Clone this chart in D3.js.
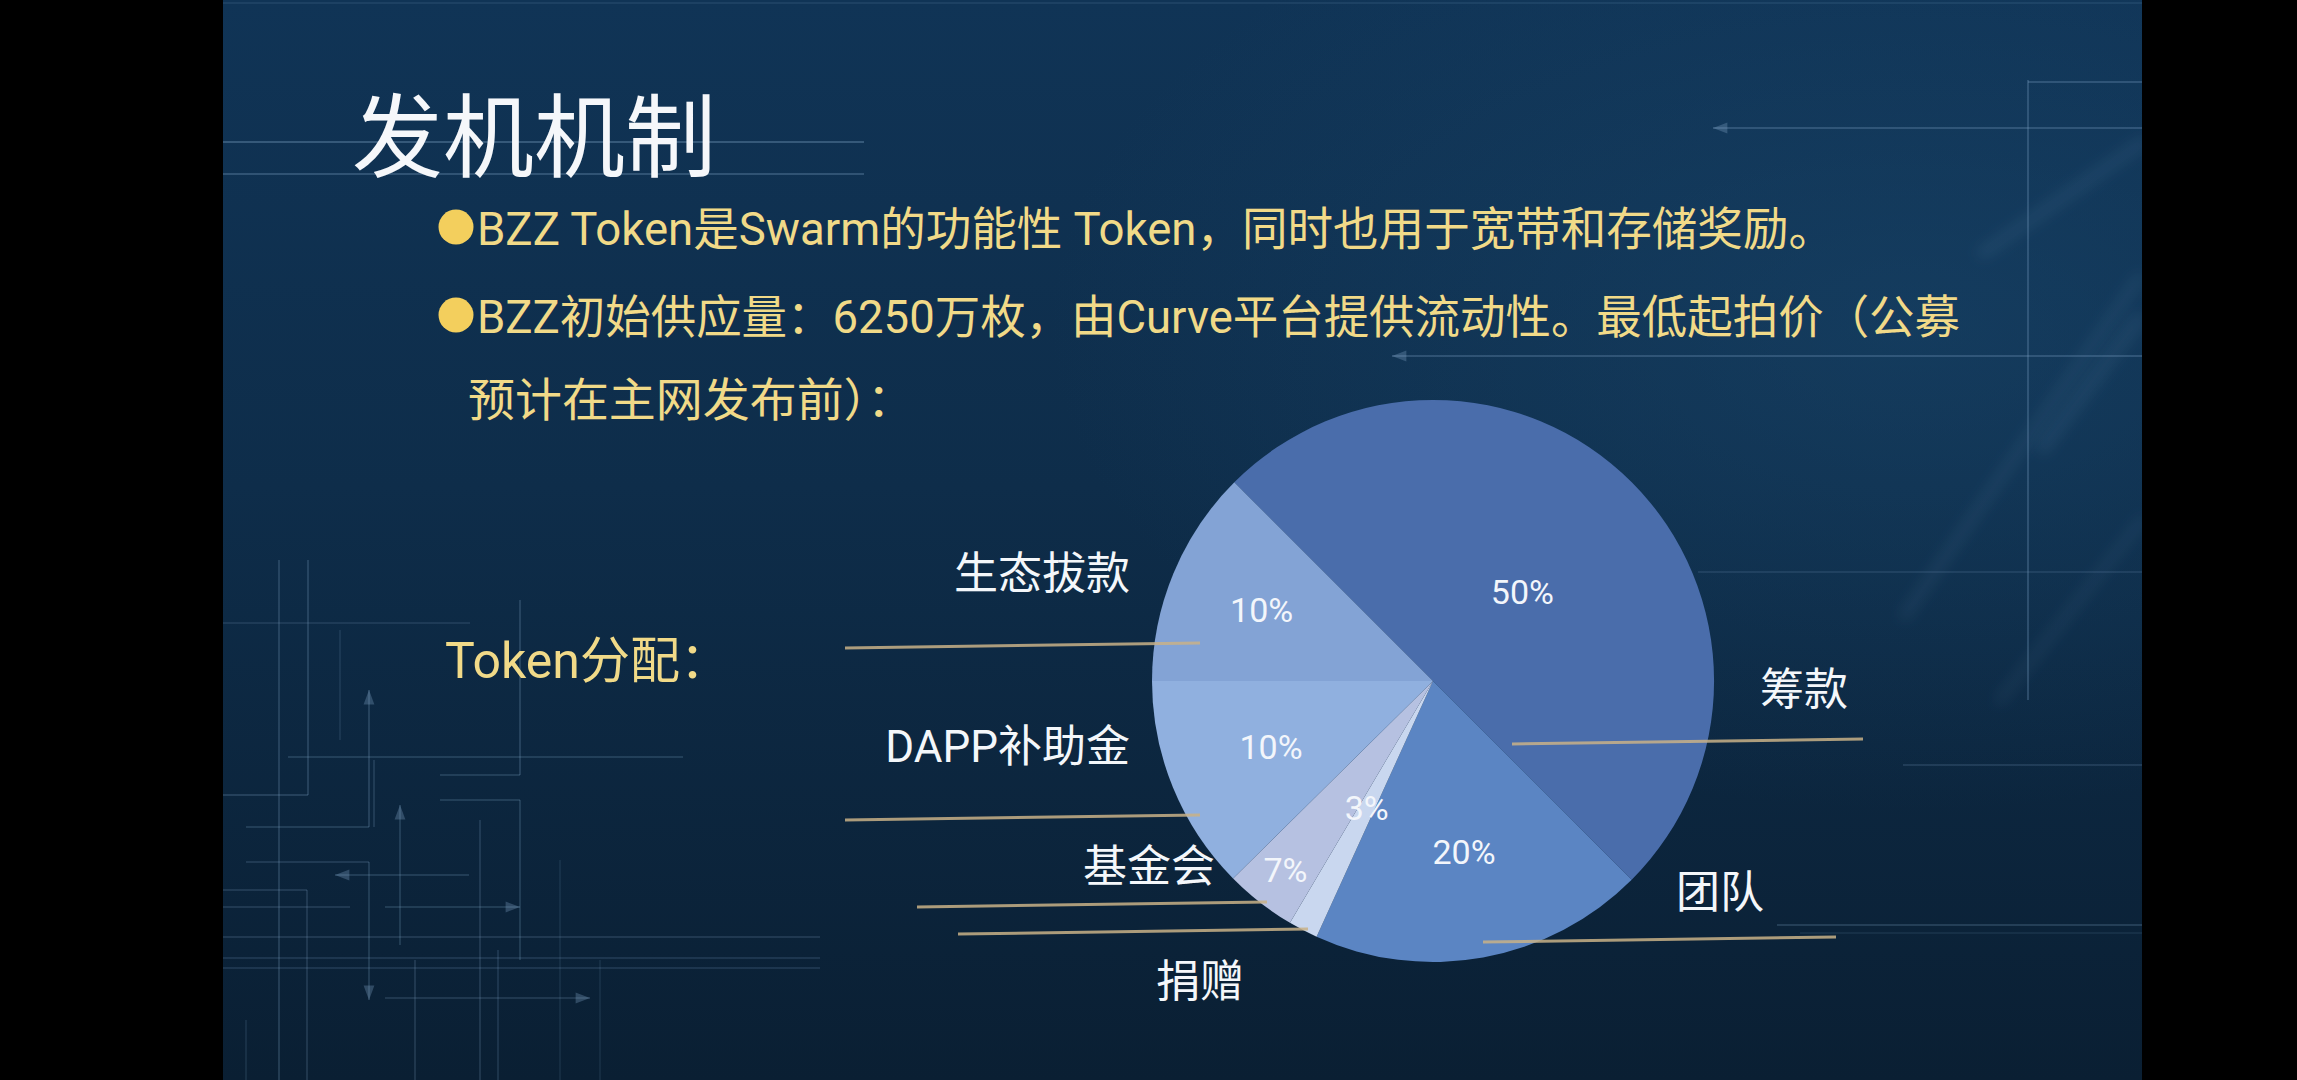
<!DOCTYPE html>
<html>
<head>
<meta charset="utf-8">
<script src="https://cdn.jsdelivr.net/npm/d3@7"></script>
<style>
  html, body { margin: 0; padding: 0; background: #000; overflow: hidden; }
  svg { display: block; }
</style>
</head>
<body>
<svg id="chart" width="2297" height="1080"></svg>
<script>
// ---------------- DATA ----------------
const categories  = ["筹款", "团队", "捐赠", "基金会", "DAPP补助金", "生态拔款"];
// slice sizes as drawn in the picture
const sliceShares = [50, 19.3, 1.7, 4.1, 12.4, 12.5];
// percentages printed on the slices
const pctLabels   = [50, 20, 3, 7, 10, 10];
const titleText   = "发机机制";
const bulletLines = [
  "BZZ Token是Swarm的功能性 Token，同时也用于宽带和存储奖励。",
  "BZZ初始供应量：6250万枚，由Curve平台提供流动性。最低起拍价（公募",
  "预计在主网发布前）："
];
const sectionLabel = "Token分配：";

// ---------------- STYLE / LAYOUT ----------------
const W = 2297, H = 1080, SX0 = 223, SX1 = 2142;
const sliceColors = ["#4a6dab", "#5b85c3", "#c9d7ef", "#b6c1e1", "#90b0df", "#83a3d5"];
const CX = 1433, CY = 681, R = 281;
const pctRadius = [0.45, 0.62, 0.51, 0.853, 0.623, 0.66];
// category label placement relative to pie centre: [dx, dy, anchor]
const catLabelPos = [[327, 9, "start"], [243, 212, "start"], [-277, 301, "start"],
                     [-218, 186, "end"], [-303, 66, "end"], [-303, -107, "end"]];
// leader lines relative to pie centre: [dx1, dy1, dx2, dy2]
const leaderPos = [[79, 63, 430, 58], [50, 261, 403, 256], [-475, 253, -125, 248],
                   [-516, 226, -166, 221], [-588, 139, -233, 134], [-588, -33, -233, -38]];

// background decoration lines [x1,y1,x2,y2,opacity]
const decorLines = [
  [223, 142, 864, 142, 0.35], [223, 174, 864, 174, 0.3], [223, 3, 2142, 3, 0.12],
  // right
  [2028, 80, 2028, 700, 0.28], [2028, 82, 2142, 82, 0.28], [1713, 128, 2142, 128, 0.28],
  [1392, 356, 2142, 356, 0.28], [1698, 572, 2142, 572, 0.15], [1903, 765, 2142, 765, 0.18],
  [1777, 925, 2142, 925, 0.22], [1800, 933, 2142, 933, 0.1],
  // left circuit
  [279, 560, 279, 1080, 0.22], [308, 560, 308, 795, 0.22], [223, 795, 308, 795, 0.22],
  [223, 623, 470, 623, 0.15], [340, 630, 340, 740, 0.13],
  [369, 690, 369, 827, 0.22], [246, 827, 369, 827, 0.2], [374, 760, 374, 827, 0.18],
  [288, 757, 683, 757, 0.2], [520, 600, 520, 775, 0.22], [440, 775, 520, 775, 0.2],
  [440, 800, 520, 800, 0.2], [520, 800, 520, 960, 0.2], [400, 805, 400, 945, 0.2],
  [246, 862, 369, 862, 0.18], [369, 862, 369, 1000, 0.2], [335, 875, 469, 875, 0.2],
  [223, 890, 307, 890, 0.18], [307, 890, 307, 1080, 0.18], [223, 907, 350, 907, 0.18],
  [385, 907, 520, 907, 0.2], [223, 937, 820, 937, 0.18], [223, 958, 820, 958, 0.16],
  [223, 968, 820, 968, 0.16], [385, 998, 590, 998, 0.18], [415, 960, 415, 1080, 0.18],
  [480, 820, 480, 1080, 0.18], [498, 950, 498, 1080, 0.16], [560, 860, 560, 1080, 0.1],
  [600, 960, 600, 1080, 0.1], [246, 1020, 246, 1080, 0.13]
];
// arrowheads [x, y, direction]
const decorArrows = [[1713, 128, "left"], [1392, 356, "left"], [369, 690, "up"], [369, 1000, "down"],
                     [335, 875, "left"], [400, 805, "up"], [520, 907, "right"], [590, 998, "right"]];
// faint diagonal light streaks on the right
const streaks = [[2142, 143, 1983, 253, 12], [2138, 320, 2043, 447, 14], [2139, 278, 1905, 615, 10],
                 [2142, 520, 2000, 700, 8]];

const svg = d3.select("#chart");
const defs = svg.append("defs");

const bg = defs.append("linearGradient").attr("id", "bgGrad")
  .attr("x1", 0).attr("y1", 0).attr("x2", 0).attr("y2", 1);
bg.selectAll("stop").data([[0, "#103456"], [0.45, "#0e2d4a"], [1, "#0a1f33"]]).join("stop")
  .attr("offset", d => d[0]).attr("stop-color", d => d[1]);

const glow = defs.append("radialGradient").attr("id", "glow")
  .attr("cx", 0.88).attr("cy", 0.3).attr("r", 0.45);
glow.append("stop").attr("offset", 0).attr("stop-color", "#1b4b72").attr("stop-opacity", 0.45);
glow.append("stop").attr("offset", 1).attr("stop-color", "#1b4b72").attr("stop-opacity", 0);

defs.append("filter").attr("id", "blur").attr("x", "-50%").attr("y", "-50%")
  .attr("width", "200%").attr("height", "200%")
  .append("feGaussianBlur").attr("stdDeviation", 7);

defs.append("clipPath").attr("id", "slideClip").append("rect")
  .attr("x", SX0).attr("y", 0).attr("width", SX1 - SX0).attr("height", H);

svg.append("rect").attr("width", W).attr("height", H).attr("fill", "#000");
const slide = svg.append("g").attr("clip-path", "url(#slideClip)");
slide.append("rect").attr("x", SX0).attr("width", SX1 - SX0).attr("height", H).attr("fill", "url(#bgGrad)");
slide.append("rect").attr("x", SX0).attr("width", SX1 - SX0).attr("height", H).attr("fill", "url(#glow)");

// decoration
const deco = slide.append("g");
deco.selectAll("line.dec").data(decorLines).join("line").attr("class", "dec")
  .attr("x1", d => d[0]).attr("y1", d => d[1]).attr("x2", d => d[2]).attr("y2", d => d[3])
  .attr("stroke", "#7ea3c4").attr("stroke-width", 2).attr("stroke-opacity", d => d[4]);
const arrowPath = (x, y, dir) => {
  const s = 9;
  if (dir === "left")  return `M${x},${y}L${x + s * 1.6},${y - s * 0.6}L${x + s * 1.6},${y + s * 0.6}Z`;
  if (dir === "right") return `M${x},${y}L${x - s * 1.6},${y - s * 0.6}L${x - s * 1.6},${y + s * 0.6}Z`;
  if (dir === "up")    return `M${x},${y}L${x - s * 0.6},${y + s * 1.6}L${x + s * 0.6},${y + s * 1.6}Z`;
  return `M${x},${y}L${x - s * 0.6},${y - s * 1.6}L${x + s * 0.6},${y - s * 1.6}Z`;
};
deco.selectAll("path.arrow").data(decorArrows).join("path").attr("class", "arrow")
  .attr("d", d => arrowPath(d[0], d[1], d[2])).attr("fill", "#7ea3c4").attr("fill-opacity", 0.32);
deco.selectAll("line.streak").data(streaks).join("line").attr("class", "streak")
  .attr("x1", d => d[0]).attr("y1", d => d[1]).attr("x2", d => d[2]).attr("y2", d => d[3])
  .attr("stroke", "#6f9cc0").attr("stroke-width", d => d[4]).attr("stroke-opacity", 0.12)
  .attr("stroke-linecap", "round").attr("filter", "url(#blur)");

// ---------------- TEXT ----------------
const latinCJK = "Roboto, 'Noto Sans CJK SC', sans-serif";
slide.append("text").text(titleText)
  .attr("x", 352).attr("y", 130).attr("dominant-baseline", "central")
  .attr("font-family", "'Noto Sans CJK SC', sans-serif").attr("font-size", 91)
  .attr("fill", "#f5f7fa");

const bulletLayout = [
  { x: 477, y: 229, len: 1357, dot: true },
  { x: 477, y: 317, len: 1483, dot: true },
  { x: 468, y: 400, len: 446, dot: false }
];
bulletLines.forEach((t, i) => {
  const L = bulletLayout[i];
  if (L.dot) slide.append("circle").attr("cx", 456).attr("cy", L.y - 2).attr("r", 17.5).attr("fill", "#f3cf5d");
  slide.append("text").text(t)
    .attr("x", L.x).attr("y", L.y).attr("dominant-baseline", "central")
    .attr("font-family", latinCJK).attr("font-size", 46)
    .attr("textLength", L.len).attr("lengthAdjust", "spacingAndGlyphs")
    .attr("fill", "#f1da88");
});
slide.append("text").text(sectionLabel)
  .attr("x", 445).attr("y", 661).attr("dominant-baseline", "central")
  .attr("font-family", latinCJK).attr("font-size", 50).attr("fill", "#f1da88");

// ---------------- PIE ----------------
const data = categories.map((c, i) => ({ cat: c, share: sliceShares[i], pct: pctLabels[i], color: sliceColors[i], i }));
const pie = d3.pie().sort(null).value(d => d.share)
  .startAngle(-Math.PI / 4).endAngle(-Math.PI / 4 + 2 * Math.PI);
const arcs = pie(data);
const arc = d3.arc().innerRadius(0).outerRadius(R);
const pg = slide.append("g").attr("transform", `translate(${CX},${CY})`);
pg.selectAll("path.slice").data(arcs).join("path").attr("class", "slice")
  .attr("d", arc).attr("fill", d => d.data.color);

const fmt = d3.format("d");
pg.selectAll("text.pct").data(arcs).join("text").attr("class", "pct")
  .attr("transform", d => {
    const rr = R * pctRadius[d.data.i];
    const c = d3.arc().innerRadius(rr).outerRadius(rr).centroid(d);
    return `translate(${c[0]},${c[1]})`;
  })
  .attr("text-anchor", "middle").attr("dominant-baseline", "central")
  .attr("font-family", "Roboto, sans-serif").attr("font-size", 34)
  .attr("fill", "#f3f6fb").text(d => fmt(d.data.pct) + "%");

// leader lines
pg.selectAll("line.leader").data(arcs).join("line").attr("class", "leader")
  .attr("x1", d => leaderPos[d.data.i][0]).attr("y1", d => leaderPos[d.data.i][1])
  .attr("x2", d => leaderPos[d.data.i][2]).attr("y2", d => leaderPos[d.data.i][3])
  .attr("stroke", "#c9b287").attr("stroke-width", 3).attr("stroke-opacity", 0.85);

// category labels
pg.selectAll("text.cat").data(arcs).join("text").attr("class", "cat")
  .attr("x", d => catLabelPos[d.data.i][0]).attr("y", d => catLabelPos[d.data.i][1])
  .attr("text-anchor", d => catLabelPos[d.data.i][2]).attr("dominant-baseline", "central")
  .attr("font-family", latinCJK).attr("font-size", 44)
  .attr("fill", "#f4f7fa").text(d => d.data.cat);
</script>
</body>
</html>
